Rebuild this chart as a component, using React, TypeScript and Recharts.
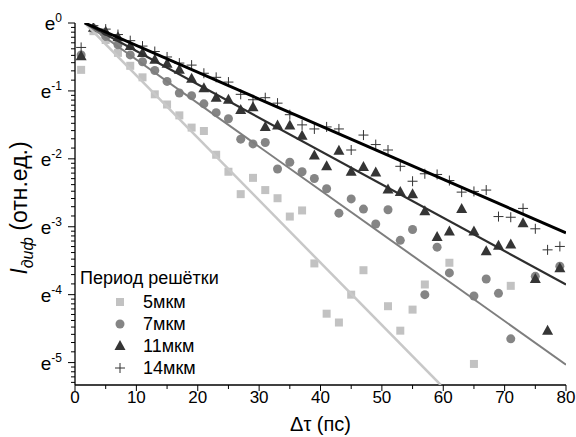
import { ComposedChart, Scatter, XAxis, YAxis, Legend } from 'recharts'

const FONT = '"Liberation Sans", Arial, sans-serif'

const x5 = [1, 3, 5, 7, 9, 11, 13, 15, 17, 19, 21, 23, 25, 27, 29, 31, 33, 35, 37, 39, 41, 43, 45, 47, 51, 53, 55, 57, 61, 65, 71]
const ln5 = [-0.69, -0.12, -0.25, -0.44, -0.63, -0.8, -1.05, -1.2, -1.36, -1.54, -1.59, -1.94, -2.19, -2.52, -2.28, -2.46, -2.58, -2.85, -2.76, -3.54, -4.28, -4.41, -4.0, -3.64, -4.17, -4.53, -4.22, -3.85, -3.53, -5.02, -3.87]

const x7 = [1, 3, 5, 7, 9, 11, 13, 15, 17, 19, 21, 23, 25, 27, 29, 31, 33, 35, 37, 39, 41, 43, 45, 47, 49, 51, 53, 55, 57, 59, 61, 65, 67, 69, 71, 75, 79]
const ln7 = [-0.47, -0.08, -0.2, -0.32, -0.47, -0.57, -0.7, -0.86, -1.03, -1.07, -1.19, -1.32, -1.41, -1.71, -1.78, -1.76, -2.15, -2.05, -2.19, -2.29, -2.44, -2.8, -2.59, -2.74, -2.96, -2.75, -3.2, -3.04, -4.0, -3.3, -3.68, -4.02, -3.77, -3.98, -4.65, -3.73, -3.58]

const x11 = [1, 3, 5, 7, 9, 11, 13, 15, 17, 19, 21, 23, 25, 27, 29, 31, 33, 35, 37, 39, 41, 43, 45, 47, 49, 51, 53, 55, 57, 59, 61, 63, 65, 67, 69, 71, 73, 75, 77, 79]
const ln11 = [-0.49, -0.07, -0.13, -0.21, -0.34, -0.44, -0.54, -0.6, -0.69, -0.82, -0.96, -1.1, -1.13, -1.28, -1.24, -1.53, -1.51, -1.51, -1.66, -1.95, -2.11, -1.88, -2.19, -2.12, -2.2, -2.45, -2.49, -2.52, -2.77, -3.15, -3.07, -2.74, -3.07, -3.36, -3.28, -3.26, -2.95, -3.77, -4.53, -3.61]

const x14 = [1, 3, 5, 7, 9, 11, 13, 15, 17, 19, 21, 23, 25, 27, 29, 31, 33, 35, 37, 39, 41, 43, 45, 47, 49, 51, 53, 55, 57, 59, 61, 63, 65, 67, 69, 71, 73, 75, 77, 79]
const ln14 = [-0.36, -0.04, -0.09, -0.17, -0.26, -0.34, -0.42, -0.5, -0.59, -0.62, -0.74, -0.8, -0.87, -1.05, -1.13, -1.1, -1.18, -1.35, -1.5, -1.56, -1.53, -1.56, -1.87, -1.65, -1.79, -1.87, -2.11, -2.33, -2.22, -2.23, -2.32, -2.49, -2.48, -2.46, -2.85, -2.86, -2.73, -3.03, -3.34, -3.29]

// fitted lines (end points)
const fitX5 = [1.6, 59.6]
const fitY5 = [0, -5.33]
const fitX = [1.6, 80]
const fitY7 = [0, -5.03]
const fitY11 = [0, -3.85]
const fitY14 = [0, -3.09]

const seriesNames = ['5мкм', '7мкм', '11мкм', '14мкм']
const legendTitle = 'Период решётки'

const xTicks = [0, 5, 10, 15, 20, 25, 30, 35, 40, 45, 50, 55, 60, 65, 70, 75, 80]
const yMajor = [0, -1, -2, -3, -4, -5]
const Y_MIN = -5.33

// minor ticks: linear steps of value inside each e-decade
const yMinor: number[] = []
yMajor.forEach(n => {
  for (let k = 1; k <= 9; k++) {
    const v = n + Math.log(1 - (k * (1 - 1 / Math.E)) / 10)
    if (v >= Y_MIN) yMinor.push(v)
  }
})
const yTicks = [...yMajor, ...yMinor]

const pts = (xs: number[], ys: number[]) => xs.map((x, i) => ({ x, y: ys[i] }))

const C5 = '#c2c2c2'
const C7 = '#858585'
const C11 = '#353535'
const C14 = '#333333'

const Square = (p: any) => <rect x={p.cx - 4} y={p.cy - 4} width={8} height={8} fill={C5} />
const Dot = (p: any) => <circle cx={p.cx} cy={p.cy} r={4.5} fill={C7} />
const Tri = (p: any) => (
  <polygon points={`${p.cx},${p.cy - 6} ${p.cx + 5.5},${p.cy + 4} ${p.cx - 5.5},${p.cy + 4}`} fill={C11} />
)
const Plus = (p: any) => (
  <path d={`M${p.cx - 5},${p.cy}H${p.cx + 5}M${p.cx},${p.cy - 5}V${p.cy + 5}`} stroke={C14} strokeWidth={1} />
)
const NoDot = () => <g />

const markers = [Square, Dot, Tri, Plus]

const YTick = (props: any) => {
  const { x, y, payload } = props
  const major = yMajor.includes(payload.value)
  return (
    <g>
      <line x1={x - (major ? 7 : 4)} x2={x} y1={y} y2={y} stroke="#000" strokeWidth={1} />
      {major && (
        <text x={62} y={y + 7} textAnchor="end" fontFamily={FONT} fontSize={19} fill="#000">
          e
          <tspan dy={-8} fontSize={12}>{payload.value === 0 ? '0' : String(payload.value)}</tspan>
        </text>
      )}
    </g>
  )
}

const XTick = (props: any) => {
  const { x, y, payload } = props
  const major = payload.value % 10 === 0
  return (
    <g>
      <line x1={x} x2={x} y1={y} y2={y + (major ? 6 : 4)} stroke="#000" strokeWidth={1} />
      {major && (
        <text x={x} y={y + 18} textAnchor="middle" fontFamily={FONT} fontSize={17} fill="#000">
          {payload.value}
        </text>
      )}
    </g>
  )
}

const XTitle = (props: any) => {
  const vb = props.viewBox
  return (
    <text x={vb.x + vb.width / 2} y={vb.y + 46} textAnchor="middle" fontFamily={FONT} fontSize={20} fill="#000">
      Δτ (пс)
    </text>
  )
}

const YTitle = () => (
  <text transform="translate(27,208) rotate(-90)" textAnchor="middle" fontFamily={FONT} fontSize={23} fill="#000">
    <tspan fontStyle="italic">I</tspan>
    <tspan fontStyle="italic" fontSize={16} dy={6}>диф</tspan>
    <tspan dy={-6}> (отн.ед.)</tspan>
  </text>
)

const LegendBox = () => (
  <div style={{ fontFamily: FONT, fontSize: 18, color: '#000', lineHeight: '22px', width: 200 }}>
    <div style={{ height: 24 }}>{legendTitle}</div>
    {seriesNames.map((name, i) => {
      const M = markers[i]
      return (
        <div key={name} style={{ height: 22, position: 'relative' }}>
          <svg width={14} height={14} style={{ position: 'absolute', left: 33, top: 4 }}>
            <M cx={7} cy={7} />
          </svg>
          <span style={{ position: 'absolute', left: 63, top: 0 }}>{name}</span>
        </div>
      )
    })}
  </div>
)

const axisLine = { stroke: '#000', strokeWidth: 1.3 }

export default function App() {
  return (
    <div style={{ position: 'absolute', left: 0, top: 0, background: '#fff' }}>
      <ComposedChart width={576} height={437} margin={{ top: 23, right: 10, bottom: 0, left: 0 }}>
        <XAxis
          type="number"
          dataKey="x"
          domain={[0, 80]}
          ticks={xTicks}
          interval={0}
          tick={(p: any) => <XTick {...p} />}
          tickLine={false}
          tickSize={0}
          tickMargin={0}
          height={52}
          axisLine={axisLine}
          allowDataOverflow
          label={{ content: (p: any) => <XTitle {...p} /> }}
        />
        <XAxis
          xAxisId="top"
          orientation="top"
          type="number"
          domain={[0, 80]}
          ticks={[]}
          tick={false}
          tickLine={false}
          height={0}
          axisLine={axisLine}
        />
        <YAxis
          type="number"
          dataKey="y"
          domain={[Y_MIN, 0]}
          ticks={yTicks}
          interval={0}
          tick={(p: any) => <YTick {...p} />}
          tickLine={false}
          tickSize={0}
          tickMargin={0}
          width={75}
          axisLine={axisLine}
          allowDataOverflow
          label={{ content: () => <YTitle /> }}
        />
        <YAxis
          yAxisId="right"
          orientation="right"
          type="number"
          domain={[Y_MIN, 0]}
          ticks={[]}
          tick={false}
          tickLine={false}
          width={0}
          axisLine={axisLine}
        />

        <Scatter name="5мкм" data={pts(x5, ln5)} shape={Square} isAnimationActive={false} />
        <Scatter name="7мкм" data={pts(x7, ln7)} shape={Dot} isAnimationActive={false} />
        <Scatter name="11мкм" data={pts(x11, ln11)} shape={Tri} isAnimationActive={false} />
        <Scatter name="14мкм" data={pts(x14, ln14)} shape={Plus} isAnimationActive={false} />

        <Scatter data={pts(fitX5, fitY5)} shape={NoDot} line={{ stroke: '#c8c8c8', strokeWidth: 2.5 }} legendType="none" isAnimationActive={false} />
        <Scatter data={pts(fitX, fitY7)} shape={NoDot} line={{ stroke: '#7e7e7e', strokeWidth: 2 }} legendType="none" isAnimationActive={false} />
        <Scatter data={pts(fitX, fitY11)} shape={NoDot} line={{ stroke: '#2e2e2e', strokeWidth: 2.2 }} legendType="none" isAnimationActive={false} />
        <Scatter data={pts(fitX, fitY14)} shape={NoDot} line={{ stroke: '#000', strokeWidth: 3 }} legendType="none" isAnimationActive={false} />

        <Legend
          layout="vertical"
          align="center"
          verticalAlign="middle"
          wrapperStyle={{ left: 80, top: 267, width: 200 }}
          content={() => <LegendBox />}
        />
      </ComposedChart>
    </div>
  )
}
